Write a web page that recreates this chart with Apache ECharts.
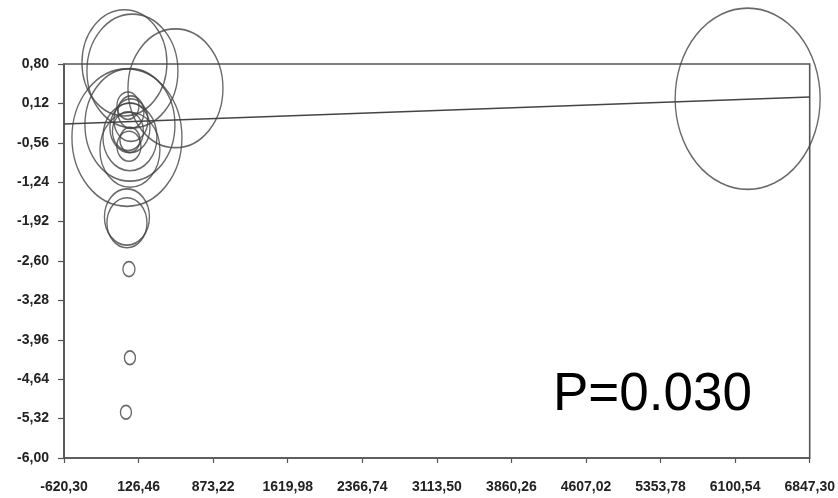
<!DOCTYPE html>
<html>
<head>
<meta charset="utf-8">
<script src="https://cdn.jsdelivr.net/npm/echarts@6/dist/echarts.min.js"></script>
<style>
html, body { margin: 0; padding: 0; background: #fff; }
#chart { width: 838px; height: 498px; }
</style>
</head>
<body>
<div id="chart"></div>
<script>
// axis ticks (both axes are evenly spaced, 10 steps)
var X_MIN = -620.30, X_STEP = 746.76;
var Y_MIN = -6.00, Y_STEP = 0.68;
var xTicks = ['-620,30', '126,46', '873,22', '1619,98', '2366,74', '3113,50', '3860,26', '4607,02', '5353,78', '6100,54', '6847,30'];
var yTicks = ['-6,00', '-5,32', '-4,64', '-3,96', '-3,28', '-2,60', '-1,92', '-1,24', '-0,56', '0,12', '0,80'];

// studies (bubble = weight)
var studyX = [-15, 65, 496, 10, 40, 40, 40, 40, 20, 50, 20, 40, 50, 30, 10, 10, 30, 40, 0, 6226];
var studyY = [0.82, 0.68, 0.38, -0.47, -0.25, -0.68, -0.46, -0.30, -0.36, -0.03, 0.08, -0.51, -0.17, -0.62, -1.84, -1.94, -2.74, -4.27, -5.21, 0.20];
var studyWeight = [8.5, 9.1, 9.5, 11.0, 9.0, 6.0, 5.4, 4.0, 3.1, 2.6, 2.2, 2.0, 3.4, 2.4, 4.5, 4.0, 1.2, 1.1, 1.1, 14.5];

// regression line end points
var regX = [-620.30, 6847.30];
var regY = [-0.235, 0.23];

function tx(v) { return (v - X_MIN) / X_STEP; }
function ty(v) { return (v - Y_MIN) / Y_STEP; }

var bubbles = [];
for (var i = 0; i < studyX.length; i++) {
    bubbles.push([tx(studyX[i]), ty(studyY[i]), studyWeight[i]]);
}
var regLine = [];
for (var j = 0; j < regX.length; j++) {
    regLine.push([tx(regX[j]), ty(regY[j])]);
}

var axisColor = '#555';
var labelFont = {
    color: '#222',
    fontFamily: 'Liberation Sans, Arial, sans-serif',
    fontWeight: 'bold',
    fontSize: 14
};

var chart = echarts.init(document.getElementById('chart'), null, {renderer: 'canvas'});
var option = {
    animation: false,
    backgroundColor: '#fff',
    grid: {
        left: 64, right: 28, top: 64, bottom: 40,
        show: true,
        borderColor: axisColor,
        borderWidth: 1.6,
        backgroundColor: 'transparent'
    },
    xAxis: {
        type: 'value',
        min: 0, max: 10, interval: 1,
        axisLine: {show: true, lineStyle: {color: axisColor, width: 1.6}},
        axisTick: {show: true, inside: false, length: 5, lineStyle: {color: axisColor, width: 1.2}},
        splitLine: {show: false},
        axisLabel: Object.assign({
            margin: 22,
            formatter: function (v) { return xTicks[Math.round(v)]; }
        }, labelFont)
    },
    yAxis: {
        type: 'value',
        min: 0, max: 10, interval: 1,
        axisLine: {show: true, lineStyle: {color: axisColor, width: 1.6}},
        axisTick: {show: true, inside: false, length: 6, lineStyle: {color: axisColor, width: 1.2}},
        splitLine: {show: false},
        axisLabel: Object.assign({
            margin: 15,
            formatter: function (v) { return yTicks[Math.round(v)]; }
        }, labelFont)
    },
    graphic: [{
        type: 'text',
        left: 553,
        top: 369,
        silent: true,
        style: {
            text: 'P=0.030',
            fill: '#000',
            font: '53px "Liberation Sans", Arial, sans-serif'
        }
    }],
    series: [
        {
            type: 'line',
            data: regLine,
            symbol: 'none',
            silent: true,
            lineStyle: {color: '#444', width: 1.6},
            z: 3
        },
        {
            type: 'scatter',
            data: bubbles,
            clip: false,
            silent: true,
            symbol: 'path://M0,1 A1,1 0 1,1 2,1 A1,1 0 1,1 0,1 Z',
            symbolSize: function (val) {
                var w = val[2] * 10;
                return [w, w * 1.25];
            },
            itemStyle: {color: 'transparent', borderColor: '#444', borderWidth: 1.5},
            z: 4
        }
    ]
};
chart.setOption(option);
</script>
</body>
</html>
